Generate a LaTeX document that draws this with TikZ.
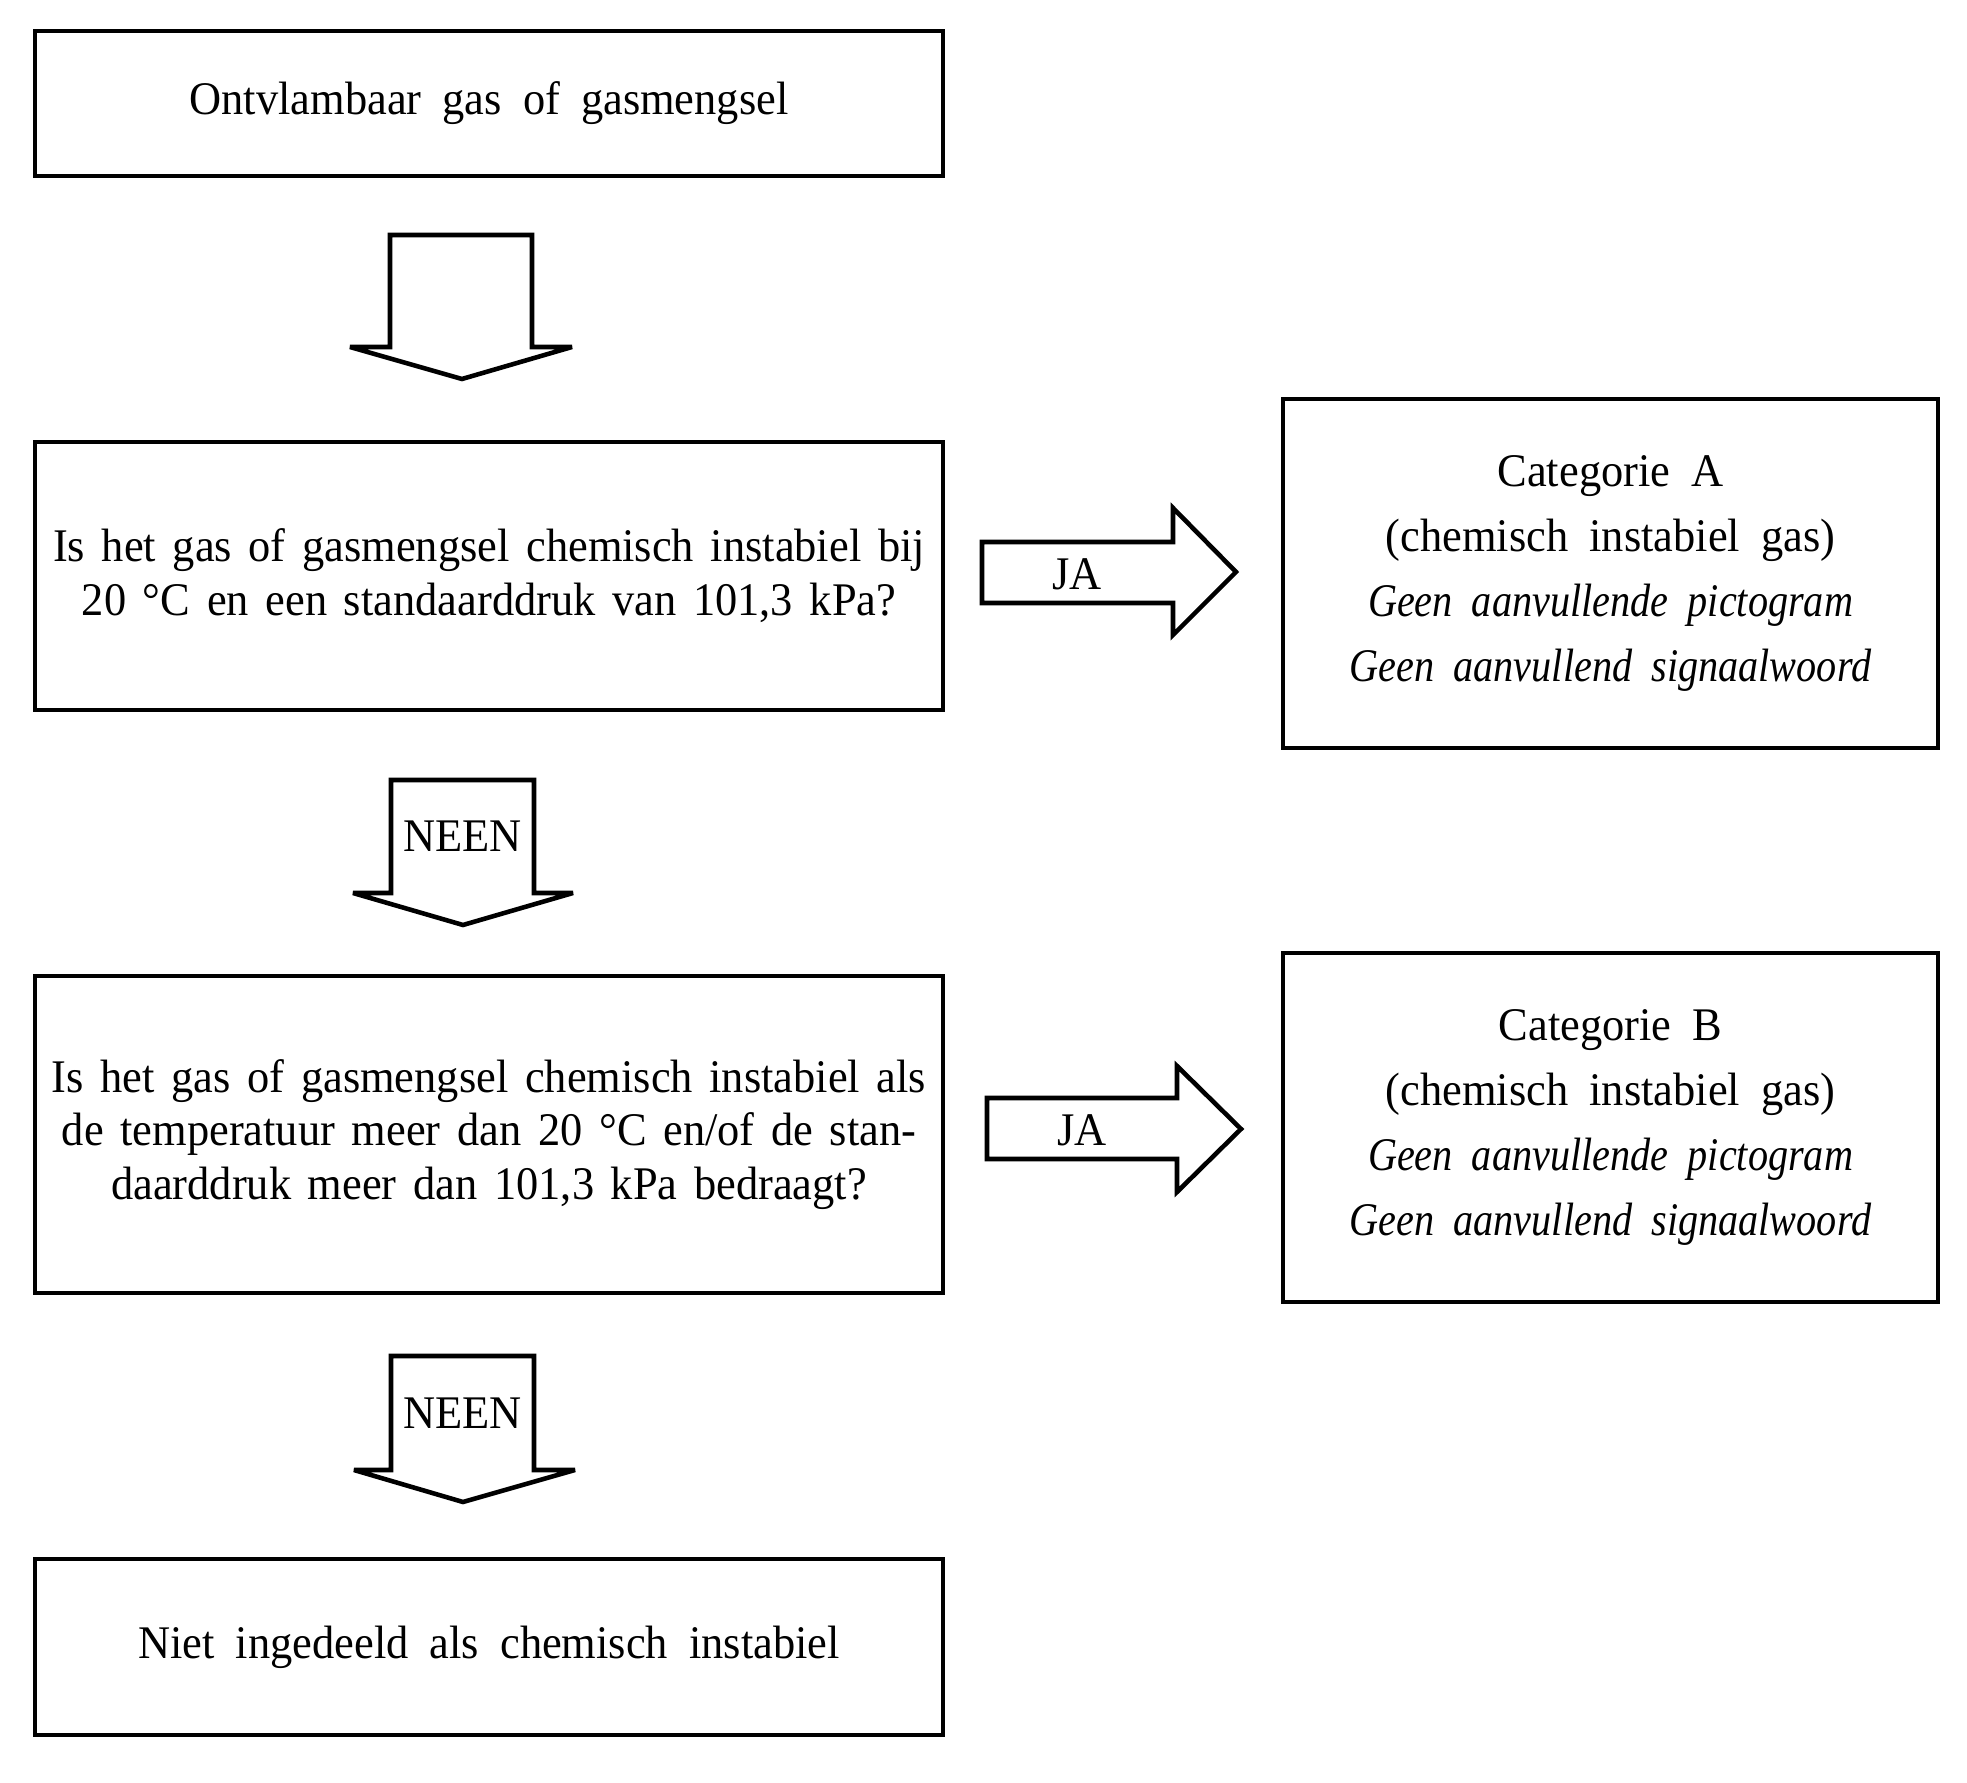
\documentclass[tikz,border=0pt]{standalone}
\usepackage{fontspec}
\setmainfont[FakeStretch=0.95,WordSpace=1.9,ItalicFeatures={FakeStretch=0.86}]{Liberation Serif}
\newfontfamily\vraagfont[FakeStretch=0.95,WordSpace=1.5]{Liberation Serif}

\tikzset{
  kader/.style={draw, line width=1.1pt, minimum width=9.08cm, align=center,
    inner sep=0pt, font=\fontsize{13.3}{15.3}\selectfont},
  vraag/.style={kader, font=\vraagfont\fontsize{13.3}{15.3}\selectfont},
  uitkomst/.style={kader, minimum width=6.55cm, minimum height=3.49cm,
    font=\fontsize{13.3}{18.4}\selectfont},
  blokpijl/.style={draw, line width=1.3pt, line join=miter, miter limit=3},
  pijltekst/.style={inner sep=0pt, font=\fontsize{13.3}{15.3}\selectfont}
}

\begin{document}
\begin{tikzpicture}[x=0.01cm, y=-0.01cm]
  \useasboundingbox (0,0) rectangle (1967,1783);
  % boxes
  \node[kader, minimum height=1.45cm] (gas) at (489,103.5) {Ontvlambaar gas of gasmengsel};
  \node[vraag, minimum height=2.68cm] (vraag1) at (489,576)
        {Is het gas of gasmengsel chemisch instabiel bij\\20 °C en een standaarddruk van 101,3 kPa?};
  \node[vraag, minimum height=3.17cm] (vraag2) at (489,1134.5)
        {Is het gas of gasmengsel chemisch instabiel als\\de temperatuur meer dan 20 °C en/of de stan-\\daarddruk meer dan 101,3 kPa bedraagt?};
  \node[kader, minimum height=1.76cm] (geen) at (489,1647) {Niet ingedeeld als chemisch instabiel};
  \node[uitkomst] (catA) at (1610.5,573.5)
        {Categorie A\\(chemisch instabiel gas)\\\textit{Geen aanvullende pictogram}\\\textit{Geen aanvullend signaalwoord}};
  \node[uitkomst] (catB) at (1610.5,1127.5)
        {Categorie B\\(chemisch instabiel gas)\\\textit{Geen aanvullende pictogram}\\\textit{Geen aanvullend signaalwoord}};
  % block arrows down
  \draw[blokpijl] (390,235) -- (532,235) -- (532,347) -- (572,347) -- (462,379) -- (350,347) -- (390,347) -- cycle;
  \draw[blokpijl] (391,780) -- (534,780) -- (534,893) -- (573,893) -- (463,925) -- (353,893) -- (391,893) -- cycle;
  \node[pijltekst] (neen1) at (462.5,836.5) {NEEN};
  \draw[blokpijl] (391,1356) -- (534,1356) -- (534,1470) -- (575,1470) -- (463,1502) -- (354,1470) -- (391,1470) -- cycle;
  \node[pijltekst] (neen2) at (462.5,1413) {NEEN};
  % block arrows right
  \draw[blokpijl] (982,542) -- (1173,542) -- (1173,508) -- (1236,572) -- (1173,635) -- (1173,603) -- (982,603) -- cycle;
  \node[pijltekst] (ja1) at (1077,574) {JA};
  \draw[blokpijl] (987,1098) -- (1177,1098) -- (1177,1066) -- (1241,1129) -- (1177,1192) -- (1177,1159) -- (987,1159) -- cycle;
  \node[pijltekst] (ja2) at (1082,1130) {JA};
\end{tikzpicture}
\end{document}
